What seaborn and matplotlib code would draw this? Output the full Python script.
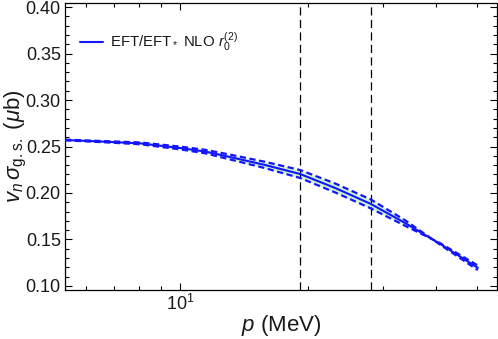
import numpy as np
import pandas as pd
import matplotlib
matplotlib.use("Agg")
import matplotlib.pyplot as plt
import seaborn as sns
from matplotlib.ticker import FixedLocator, NullFormatter, MultipleLocator, FixedFormatter

# ---- data ----
p_mev = [5.36, 6.48, 8.05, 10.0, 11.45, 13.1, 15.85, 19.16, 23.16, 28.1, 33.83, 40.9, 50.2]
sigma_central = [0.2570, 0.2554, 0.2534, 0.2484, 0.2446, 0.2387, 0.2301, 0.2204,
                 0.2054, 0.1882, 0.1677, 0.1452, 0.1194]
sigma_upper = [0.2574, 0.2560, 0.2544, 0.2499, 0.2465, 0.2413, 0.2335, 0.2247,
               0.2102, 0.1930, 0.1707, 0.1444, 0.1169]
sigma_lower = [0.2566, 0.2548, 0.2524, 0.2469, 0.2427, 0.2361, 0.2267, 0.2161,
               0.2006, 0.1834, 0.1647, 0.1460, 0.1219]
vlines_p = [19.16, 28.1]
legend_label = r"EFT/EFT$_*$ NLO $r_0^{(2)}$"
x_major_ticks = [10]
x_major_labels = [r"$10^1$"]
x_minor_ticks = [6, 7, 8, 9, 20, 30, 40, 50]

df = pd.DataFrame({"p": p_mev, "central": sigma_central,
                   "upper": sigma_upper, "lower": sigma_lower})

sns.set_style("ticks")
plt.rcParams["font.family"] = ["Liberation Sans", "DejaVu Sans"]
plt.rcParams["mathtext.fontset"] = "custom"
plt.rcParams["mathtext.rm"] = "Liberation Sans"
plt.rcParams["mathtext.it"] = "Liberation Sans:italic"
plt.rcParams["mathtext.bf"] = "Liberation Sans:bold"

fig = plt.figure(figsize=(4.98, 3.39), dpi=100)
ax = fig.add_axes([65 / 498, 1 - 290 / 339, 432 / 498, 287 / 339])

ax.fill_between(df["p"], df["lower"], df["upper"], color="#ccf5cc", lw=0, zorder=1)
sns.lineplot(data=df, x="p", y="upper", ax=ax, color="#1414ff", lw=1.6,
             linestyle=(0, (2.8, 1.6)), zorder=3)
sns.lineplot(data=df, x="p", y="lower", ax=ax, color="#1414ff", lw=1.6,
             linestyle=(0, (2.8, 1.6)), zorder=3)
sns.lineplot(data=df, x="p", y="central", ax=ax, color="#1414ff", lw=1.5,
             label=legend_label, zorder=4)

for xv in vlines_p:
    ax.axvline(xv, color="black", lw=0.9, linestyle=(0, (6.5, 3.5)), zorder=2)

ax.set_xscale("log")
ax.set_xlim(5.36, 55.7)
ax.set_ylim(0.0955, 0.4045)

ax.xaxis.set_major_locator(FixedLocator(x_major_ticks))
ax.xaxis.set_major_formatter(FixedFormatter(x_major_labels))
ax.xaxis.set_minor_locator(FixedLocator(x_minor_ticks))
ax.xaxis.set_minor_formatter(NullFormatter())
ax.yaxis.set_major_locator(MultipleLocator(0.05))
ax.yaxis.set_minor_locator(MultipleLocator(0.01))
ax.yaxis.set_major_formatter(matplotlib.ticker.FormatStrFormatter("%.2f"))

ax.tick_params(which="both", direction="in", top=True, right=True, color="black",
               width=0.8, labelsize=13, labelcolor="#1a1a1a")
ax.tick_params(which="major", length=5, pad=3)
ax.tick_params(which="minor", length=3)
for s in ax.spines.values():
    s.set_linewidth(0.9)
    s.set_color("black")

ax.set_xlabel(r"$p$ (MeV)", fontsize=16, color="#1a1a1a", va="center")
ax.set_ylabel(r"$v_n\,\sigma_{\mathrm{g.s.}}$ ($\mu$b)", fontsize=16, color="#1a1a1a",
              va="center")
ax.xaxis.set_label_coords(0.5, (290 - 326) / 287)
ax.yaxis.set_label_coords((16 - 65) / 432, 0.5)

leg = ax.legend(loc="center left", bbox_to_anchor=(15 / 432, 1 - 39 / 287),
                frameon=False, fontsize=10.8, handlelength=1.55, handletextpad=0.45,
                borderpad=0, borderaxespad=0)
for t in leg.get_texts():
    t.set_color("#1a1a1a")

fig.savefig("out.png", dpi=100)
